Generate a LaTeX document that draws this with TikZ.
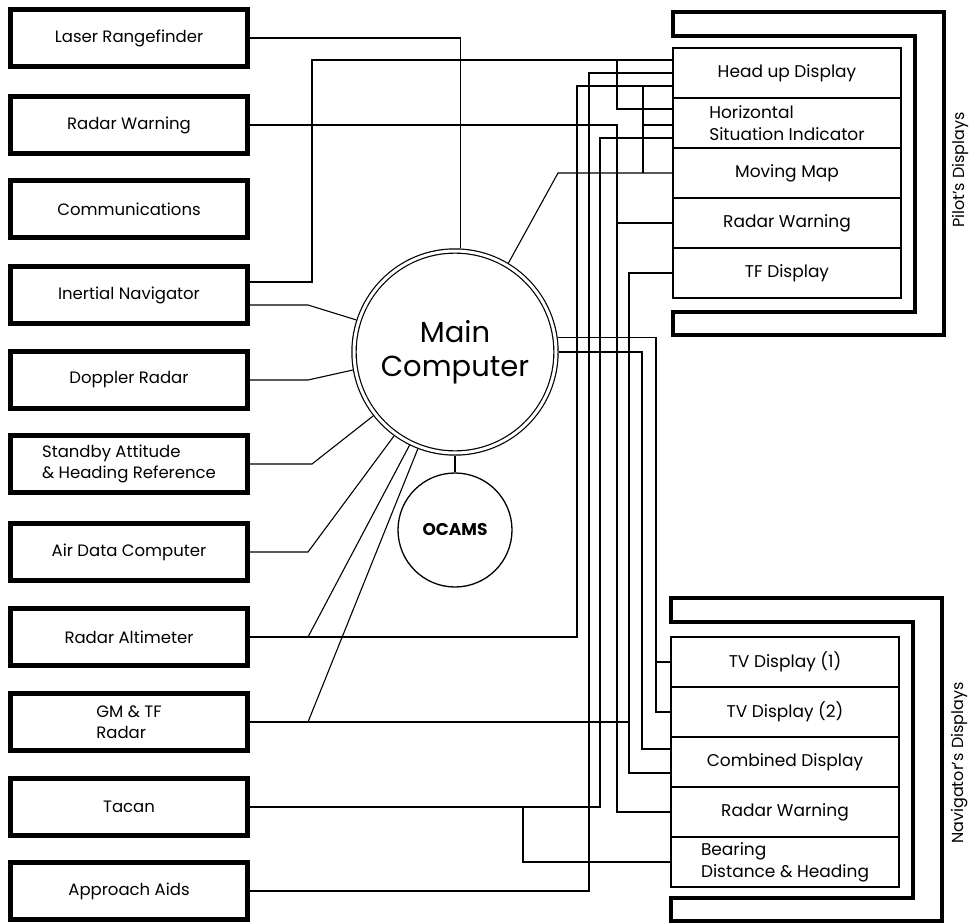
\documentclass[tikz,border=0pt]{standalone}
\usepackage{fontspec}
\setmainfont{Poppins}
\usetikzlibrary{calc}

\begin{document}
\begin{tikzpicture}[x=1pt, y=-1pt,
  unit/.style={draw, line width=4.5pt, minimum width=237pt, minimum height=57pt,
    inner sep=0pt, align=left, font=\fontsize{16.5}{21}\selectfont},
  row/.style={draw, line width=1.2pt, minimum width=228pt, minimum height=50pt,
    inner sep=0pt, align=left, font=\fontsize{17}{22}\selectfont},
  computer/.style={circle, draw, double, line width=1.2pt, double distance=3pt,
    minimum size=202pt, inner sep=0pt, outer sep=2.7pt, align=center,
    font=\fontsize{29}{34}\selectfont},
  store/.style={circle, draw, line width=1.3pt, minimum size=114pt, inner sep=0pt,
    font=\fontsize{17}{20}\selectfont\bfseries},
  frame/.style={line width=4.5pt, line join=miter},
  sidelabel/.style={rotate=90, font=\fontsize{16}{18}\selectfont},
  wire/.style={line width=1.1pt}]

\useasboundingbox (0,0) rectangle (971,923);

%─────────────
% Controls
%─────────────
\def\unitx{129}    % centre of the column of sensor units
\def\pilotx{787}   % centre of the pilot's display list
\def\navx{785}     % centre of the navigator's display list

%───────────────────────────────────────────────────────
% Sensor units down the left side
%───────────────────────────────────────────────────────
\newcommand{\drawUnit}[3]{%
  \node[unit] (#1) at (\unitx,#2) {#3};
}

\drawUnit{lrf}{38}{Laser Rangefinder}
\drawUnit{lrw}{125}{Radar Warning}
\drawUnit{com}{209}{Communications}
\drawUnit{inav}{295}{Inertial Navigator}
\drawUnit{dop}{380}{Doppler Radar}
\drawUnit{sahr}{464}{Standby Attitude\\\& Heading Reference}
\drawUnit{adc}{552}{Air Data Computer}
\drawUnit{ralt}{637}{Radar Altimeter}
\drawUnit{gmtf}{722}{GM \& TF\\Radar}
\drawUnit{tac}{807}{Tacan}
\drawUnit{apa}{891}{Approach Aids}

%─────────────
% Computers
%─────────────
\node[computer] (mc) at (455,352) {Main\\Computer};
\node[store] (ocams) at (455,530) {OCAMS};

%───────────────────────────────────────────────────────
% Command to draw the thick C-shaped frame of a display panel
% (#1,#2) = top left corner
%───────────────────────────────────────────────────────
\newcommand{\drawDisplayFrame}[2]{%
  \begin{scope}[shift={(#1,#2)}]
    \draw[frame] (0,0) -- (271,0) -- (271,323) -- (0,323) -- (0,300)
      -- (242,300) -- (242,24) -- (0,24) -- cycle;
  \end{scope}
}

\drawDisplayFrame{673}{12}   % pilot
\drawDisplayFrame{671}{598}  % navigator

%─────────────
% Display lists
%─────────────
\foreach \name/\ypos/\txt in {hud/73/{Head up Display},
    hsi/123/{Horizontal\\Situation Indicator}, mmap/173/{Moving Map},
    prw/223/{Radar Warning}, tfd/273/{TF Display}}
  \node[row] (\name) at (\pilotx,\ypos) {\txt};

\foreach \name/\ypos/\txt in {tv1/662/{TV Display (1)}, tv2/712/{TV Display (2)},
    cmb/762/{Combined Display}, nrw/812/{Radar Warning},
    bdh/862/{Bearing\\Distance \& Heading}}
  \node[row] (\name) at (\navx,\ypos) {\txt};

\node[sidelabel] (pilab) at (960,170) {Pilot's Displays};
\node[sidelabel] (navlab) at (960,763) {Navigator's Displays};

%─────────────
% Wiring columns and ports
%─────────────
\foreach \n/\x in {kink/308, inbus/312, tacdrop/523, mapkink/558, altbus/577,
    appbus/589, tacbus/600, rwbus/617, tfbus/629, cmbbus/642, mapbus/643, tvbus/656}
  \coordinate (\n) at (\x,0);

\coordinate (hud1) at ($(hud.west)+(0,-13)$);   % y = 60
\coordinate (hud3) at ($(hud.west)+(0,13)$);    % y = 86
\coordinate (hsi1) at ($(hsi.west)+(0,-14)$);
\coordinate (hsi2) at ($(hsi.west)+(0,2)$);
\coordinate (hsi3) at ($(hsi.west)+(0,15)$);
\coordinate (cmb1) at ($(cmb.west)+(0,-13)$);
\coordinate (cmb2) at ($(cmb.west)+(0,11)$);
\coordinate (inav1) at ($(inav.east)+(0,-13)$);
\coordinate (inav2) at ($(inav.east)+(0,10)$);

%─────────────
% Wires
%─────────────
% laser rangefinder
\draw[wire] (lrf.east) -| (mc.87);
% radar warning
\draw[wire] (lrw.east) -| (rwbus |- nrw.west) -- (nrw.west);
\draw[wire] (rwbus |- prw.west) -- (prw.west);
% inertial navigator
\draw[wire] (inav1) -| (inbus |- hud1) -- (hud1);
\draw[wire] (rwbus |- hud1) |- (hsi1);
\draw[wire] (inav2) -- (kink |- inav2) -- (mc.162);
% doppler, standby, air data
\draw[wire] (dop.east) -- (kink |- dop.east) -- (mc.190);
\draw[wire] (sahr.east) -- (inbus |- sahr.east) -- (mc.218);
\draw[wire] (adc.east) -- (kink |- adc.east) -- (mc.234);
% radar altimeter
\draw[wire] (ralt.east) -| (altbus |- hud3) -- (hud3);
\draw[wire] (mc.244) -- (kink |- ralt.east);
\draw[wire] (mapbus |- hud3) -- (mapbus |- mmap.west);
\draw[wire] (mapbus |- hsi2) -- (hsi2);
% gm & tf radar
\draw[wire] (gmtf.east) -- (tfbus |- gmtf.east);
\draw[wire] (mc.249) -- (kink |- gmtf.east);
% tacan
\draw[wire] (tac.east) -| (tacbus |- hsi3) -- (hsi3);
\draw[wire] (tacdrop |- tac.east) |- (bdh.west);
% approach aids
\draw[wire] (apa.east) -| (appbus |- hud.west) -- (hud.west);
% computer outputs
\draw[wire] (mc.59) -- (mapkink |- mmap.west) -- (mmap.west);
\draw[wire] (mc.8) -| (tvbus |- tv2.west) -- (tv2.west);
\draw[wire] (tvbus |- tv1.west) -- (tv1.west);
\draw[wire] (mc.0) -| (cmbbus |- cmb1) -- (cmb1);
\draw[wire] (tfd.west) -| (tfbus |- cmb2) -- (cmb2);
\draw[wire] (mc.south) -- (ocams.north);

\end{tikzpicture}
\end{document}
